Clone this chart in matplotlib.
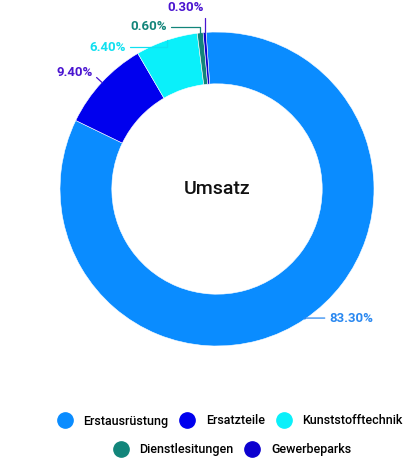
import numpy as np
import matplotlib
matplotlib.use("Agg")
import matplotlib.pyplot as plt
from matplotlib.lines import Line2D

# --- data -------------------------------------------------------------
categories = ["Erstausrüstung", "Ersatzteile", "Kunststofftechnik",
              "Dienstlesitungen", "Gewerbeparks"]
shares = [83.3, 9.4, 6.4, 0.6, 0.3]
slice_colors = ["#0a8cff", "#0000ee", "#0af0fa", "#12857a", "#0c00cf"]
label_colors = ["#2a88f0", "#4a14d0", "#10e0f0", "#12857a", "#4a14d0"]
center_title = "Umsatz"

# label offsets (px, up positive, relative to the outer edge point of each wedge)
label_offsets = [(24, 1), (-9, 10), (-41, -7), (-33, 6), (-1, 25)]
# direction the connector enters the wedge (None -> radial)
connector_in = [None, None, 90, 90, 90]

W, H = 410, 459
CX, CY, R = 217, 189, 157

plt.rcParams["font.family"] = ["Roboto", "DejaVu Sans"]

fig = plt.figure(figsize=(W / 100, H / 100), dpi=100)
ax = fig.add_axes([0, 0, 1, 1])

wedges, _ = ax.pie(shares, colors=slice_colors, startangle=94, counterclock=False,
                   radius=1.0, wedgeprops=dict(width=0.33, edgecolor="white", linewidth=0.4))

# pie() resets the limits, so place the ring afterwards
ax.set_xlim(-CX / R, (W - CX) / R)
ax.set_ylim(-(H - CY) / R, CY / R)
ax.set_aspect("equal")
ax.axis("off")

ax.text(0, 0, center_title, ha="center", va="center", fontsize=14,
        fontweight="medium", color="#111111")

# percentage labels with connectors
for w, val, col, (dx, dy), ang in zip(wedges, shares, label_colors, label_offsets, connector_in):
    mid = np.deg2rad((w.theta1 + w.theta2) / 2)
    ex, ey = np.cos(mid), np.sin(mid)
    tx, ty = ex + dx / R, ey + dy / R
    ha = "left" if dx > 0 else "right"
    angle_b = np.rad2deg(mid) if ang is None else ang
    ax.annotate(f"{val:.2f}%", xy=(ex, ey), xytext=(tx, ty),
                ha=ha, va="center", fontsize=9.5, fontweight="bold", color=col,
                arrowprops=dict(arrowstyle="-", color=col, lw=0.9,
                                shrinkA=1, shrinkB=0,
                                connectionstyle=f"angle,angleA=0,angleB={angle_b:.1f},rad=0"))

# legend in two centred rows
handles = [Line2D([], [], marker="o", linestyle="", markersize=11,
                  markerfacecolor=c, markeredgecolor=c) for c in slice_colors]
leg1 = fig.legend(handles[:3], categories[:3], loc="center", ncol=3,
                  bbox_to_anchor=(0.555, 1 - 421 / H), frameon=False,
                  fontsize=9, handletextpad=0.5, columnspacing=0.5)
for t in leg1.get_texts():
    t.set_fontweight("medium")
leg2 = fig.legend(handles[3:], categories[3:], loc="center", ncol=2,
                  bbox_to_anchor=(0.56, 1 - 450 / H), frameon=False,
                  fontsize=9, handletextpad=0.5, columnspacing=0.5)
for t in leg2.get_texts():
    t.set_fontweight("medium")

fig.savefig("out.png", dpi=100)
